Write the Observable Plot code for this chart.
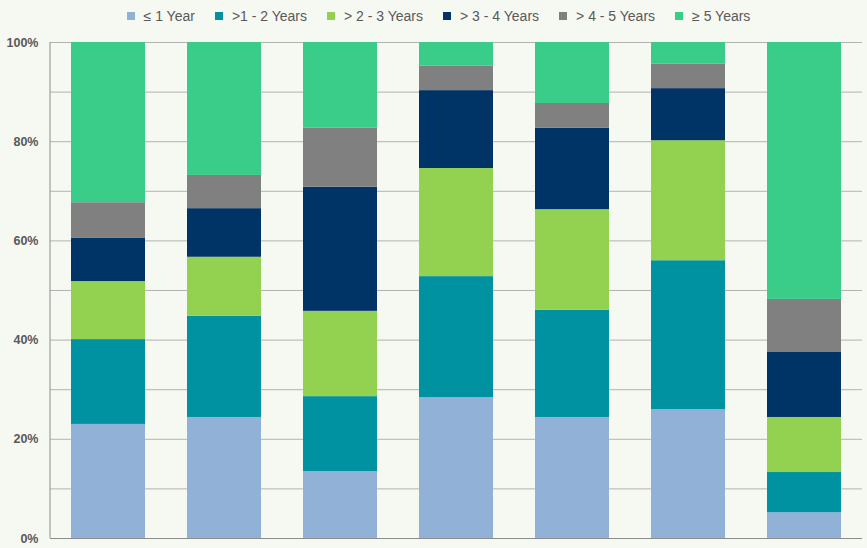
<!DOCTYPE html>
<html>
<head>
<meta charset="utf-8">
<script src="https://cdn.jsdelivr.net/npm/d3@7"></script>
<script src="https://cdn.jsdelivr.net/npm/@observablehq/plot@0.6"></script>
<style>
  html, body { margin: 0; padding: 0; background: #f6f8f2; width: 867px; height: 548px; overflow: hidden; }
  body { font-family: "Liberation Sans", Arial, sans-serif; }
  #legend { height: 30px; display: flex; justify-content: center; align-items: center; gap: 20px; font-size: 14px; color: #595959; padding-left: 10px; padding-top: 2px; box-sizing: border-box; }
  #legend .item { display: flex; align-items: center; gap: 9px; }
  #legend .sw { width: 8px; height: 8px; display: inline-block; }
</style>
</head>
<body>
<div id="legend"></div>
<div id="chart"></div>
<script>
const categories = ["1", "2", "3", "4", "5", "6", "7"];
const seriesNames = ["≤ 1 Year", ">1 - 2 Years", "> 2 - 3 Years", "> 3 - 4 Years", "> 4 - 5 Years", "≥ 5 Years"];
const seriesColors = ["#91b1d7", "#0092a0", "#93d251", "#003366", "#808080", "#3acd8a"];
const upTo1 = [23.0, 24.4, 13.5, 28.4, 24.4, 26.0, 5.2];
const y1to2 = [17.1, 20.4, 15.1, 24.4, 21.6, 30.0, 8.1];
const y2to3 = [11.7, 11.9, 17.2, 21.8, 20.3, 24.2, 11.1];
const y3to4 = [8.7, 9.8, 25.0, 15.7, 16.4, 10.5, 13.1];
const y4to5 = [7.2, 6.7, 11.9, 4.9, 5.0, 4.9, 10.7];
const over5 = [32.3, 26.8, 17.3, 4.8, 12.3, 4.4, 51.8];
const yTicks = [0, 20, 40, 60, 80, 100];
const gridTicks = [0, 10, 20, 30, 40, 50, 60, 70, 80, 90, 100];

const seriesValues = [upTo1, y1to2, y2to3, y3to4, y4to5, over5];
const rows = [];
seriesValues.forEach((vals, si) => {
  vals.forEach((v, ci) => rows.push({cat: categories[ci], series: seriesNames[si], value: v}));
});

const legend = document.getElementById("legend");
seriesNames.forEach((n, i) => {
  const it = document.createElement("div");
  it.className = "item";
  it.innerHTML = `<span class="sw" style="background:${seriesColors[i]}"></span><span>${n}</span>`;
  legend.appendChild(it);
});

const plot = Plot.plot({
  width: 867,
  height: 518,
  marginTop: 12,
  marginBottom: 10,
  marginLeft: 50,
  marginRight: 5,
  style: {background: "#f6f8f2", fontFamily: "'Liberation Sans', Arial, sans-serif"},
  x: {type: "band", domain: categories, paddingInner: 0.362, paddingOuter: 0.181, axis: null},
  y: {domain: [0, 100], axis: null, label: null},
  color: {domain: seriesNames, range: seriesColors},
  marks: [
    Plot.ruleY(gridTicks.filter(d => d > 0), {stroke: "#b3b3b3", strokeWidth: 1}),
    Plot.barY(rows, {x: "cat", y: "value", fill: "series", order: seriesNames}),
    Plot.ruleY([0], {stroke: "#8c8c8c", strokeWidth: 1.2}),
    Plot.axisY(yTicks, {tickSize: 0, tickPadding: 12, label: null, tickFormat: d => d + "%", fill: "#595959", fontWeight: "bold", fontSize: 12.5})
  ]
});

const y = plot.scale("y");
d3.select(plot).append("line")
  .attr("x1", 50).attr("x2", 50)
  .attr("y1", y.apply(0)).attr("y2", y.apply(100))
  .attr("stroke", "#8c8c8c").attr("stroke-width", 1);

document.getElementById("chart").appendChild(plot);
</script>
</body>
</html>
